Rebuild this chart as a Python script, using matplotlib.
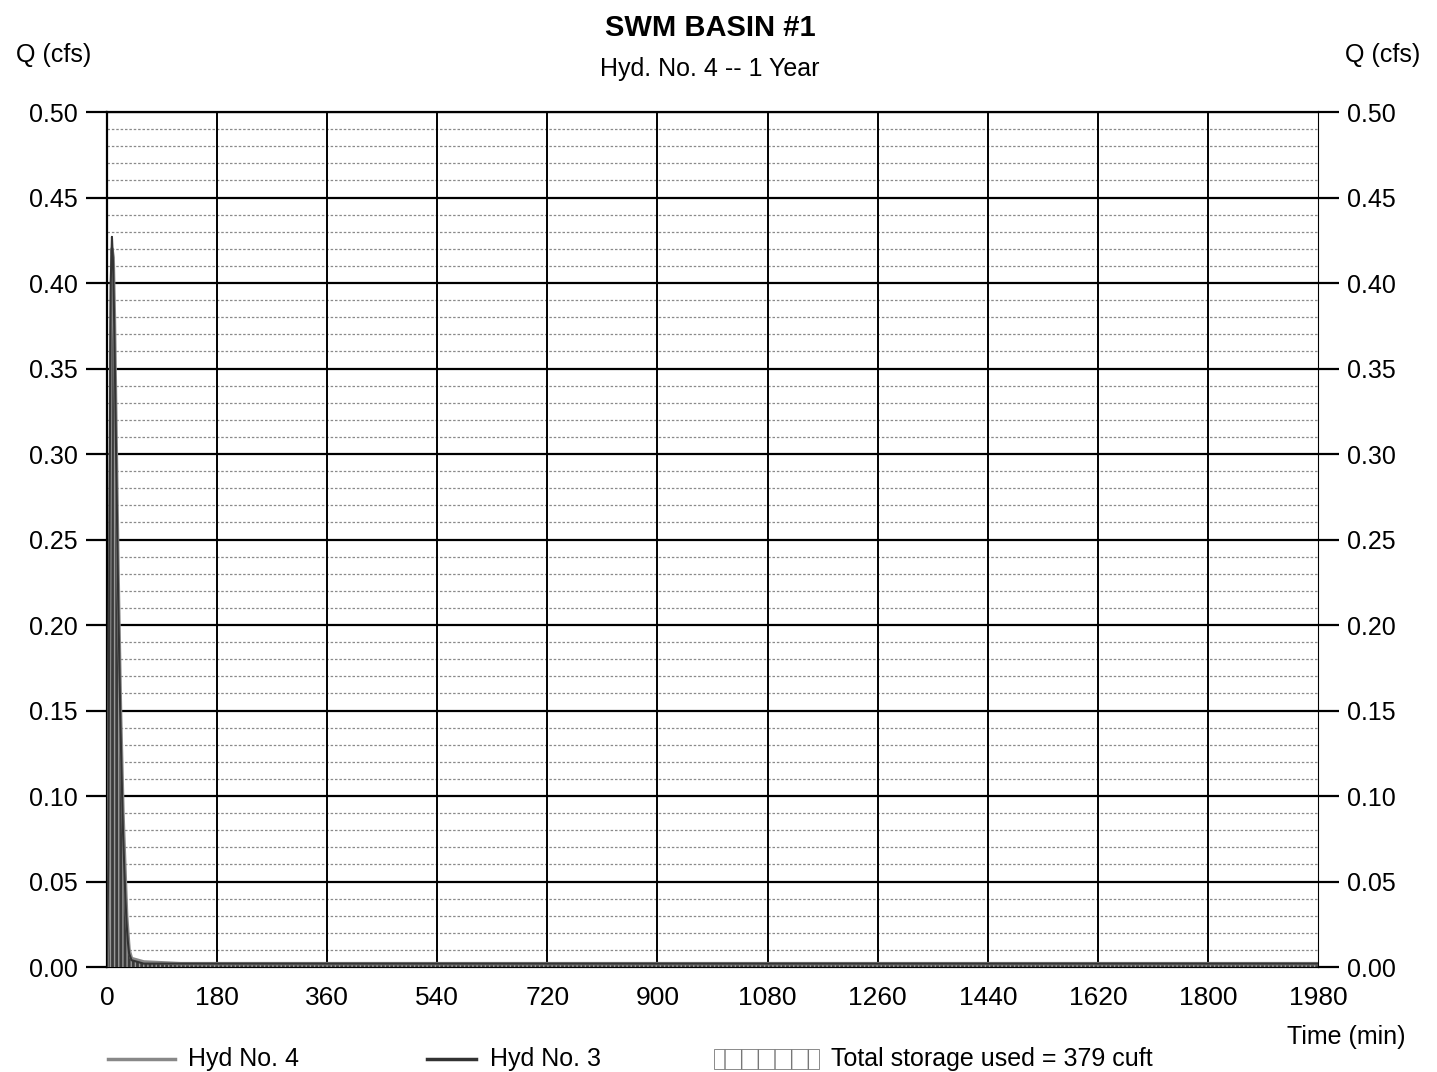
import numpy as np
import matplotlib.pyplot as plt
from matplotlib.patches import Rectangle
from matplotlib.lines import Line2D

plt.rcParams['font.family'] = ['Liberation Sans', 'DejaVu Sans']

# hydrograph values (min, cfs)
time_min = [0, 2, 4, 6, 8, 10, 12, 14, 16, 18, 20, 22, 24, 26, 28, 30, 32, 34, 36, 40, 60, 120, 400, 800, 1200, 1600, 1980]
hyd3_inflow = [0.0, 0.06, 0.26, 0.40, 0.427, 0.41, 0.37, 0.32, 0.27, 0.22, 0.18, 0.14, 0.11, 0.08, 0.06, 0.04, 0.025, 0.015, 0.008, 0.004, 0.002, 0.002, 0.002, 0.002, 0.002, 0.002, 0.002]
hyd4_outflow = [0.0, 0.03, 0.20, 0.36, 0.42, 0.415, 0.38, 0.33, 0.28, 0.23, 0.19, 0.15, 0.12, 0.09, 0.07, 0.05, 0.03, 0.02, 0.01, 0.005, 0.003, 0.002, 0.002, 0.002, 0.002, 0.002, 0.002]
x_ticks = [0, 180, 360, 540, 720, 900, 1080, 1260, 1440, 1620, 1800, 1980]
y_ticks = [0.00, 0.05, 0.10, 0.15, 0.20, 0.25, 0.30, 0.35, 0.40, 0.45, 0.50]
storage_cuft = 379

fig = plt.figure(figsize=(14.37, 10.72), dpi=100)
ax = fig.add_axes([0.0745, 0.0979, 0.8427, 0.7976])

ax.set_xlim(0, 1980)
ax.set_ylim(0, 0.5)

# minor dotted grid every 0.01
for v in np.arange(0.01, 0.5, 0.01):
    if abs(v / 0.05 - round(v / 0.05)) > 1e-6:
        ax.axhline(v, color='#8a8a8a', lw=0.9, ls=(0, (2, 1.5)), zorder=1)
for v in y_ticks[1:]:
    ax.axhline(v, color='black', lw=1.6, zorder=2)
for v in x_ticks[1:-1]:
    ax.axvline(v, color='black', lw=1.4, zorder=2)
ax.axvline(0, color='black', lw=1.4, zorder=2)

# storage area and hydrographs
ax.fill_between(time_min, hyd3_inflow, color='#3a3a3a', hatch='||||', edgecolor='#999999', lw=0, zorder=3)
ax.plot(time_min, hyd4_outflow, color='#888888', lw=2.5, zorder=4)
ax.plot(time_min, hyd3_inflow, color='#333333', lw=1.5, zorder=5)

ax.set_xticks(x_ticks)
ax.set_yticks(y_ticks)
ax.set_yticklabels(['%.2f' % v for v in y_ticks])
ax.tick_params(axis='y', which='both', direction='out', length=15, width=1.6,
               labelsize=18, pad=6, left=True, right=True, labelleft=True, labelright=True)
ax.tick_params(axis='x', length=0, labelsize=19, pad=14)

for s in ['left', 'bottom', 'top']:
    ax.spines[s].set_linewidth(1.6)
ax.spines['right'].set_linewidth(0.8)

fig.text(0.494, 0.974, 'SWM BASIN #1', ha='center', va='center', fontsize=21, fontweight='bold')
fig.text(0.494, 0.936, 'Hyd. No. 4 -- 1 Year', ha='center', va='center', fontsize=18)
fig.text(0.037, 0.949, 'Q (cfs)', ha='center', va='center', fontsize=18)
fig.text(0.962, 0.949, 'Q (cfs)', ha='center', va='center', fontsize=18)
fig.text(0.937, 0.033, 'Time (min)', ha='center', va='center', fontsize=18)

# legend along the bottom
fig.add_artist(Line2D([0.075, 0.122], [0.012, 0.012], color='#888888', lw=2.5))
fig.text(0.131, 0.012, 'Hyd No. 4', ha='left', va='center', fontsize=18)
fig.add_artist(Line2D([0.297, 0.331], [0.012, 0.012], color='#333333', lw=2.5))
fig.text(0.341, 0.012, 'Hyd No. 3', ha='left', va='center', fontsize=18)
fig.add_artist(Rectangle((0.497, 0.003), 0.073, 0.018, transform=fig.transFigure,
                         facecolor='white', edgecolor='#777777', hatch='|', lw=0.6))
fig.text(0.578, 0.012, 'Total storage used = %d cuft' % storage_cuft, ha='left', va='center', fontsize=18)

fig.savefig('out.png', dpi=100)
